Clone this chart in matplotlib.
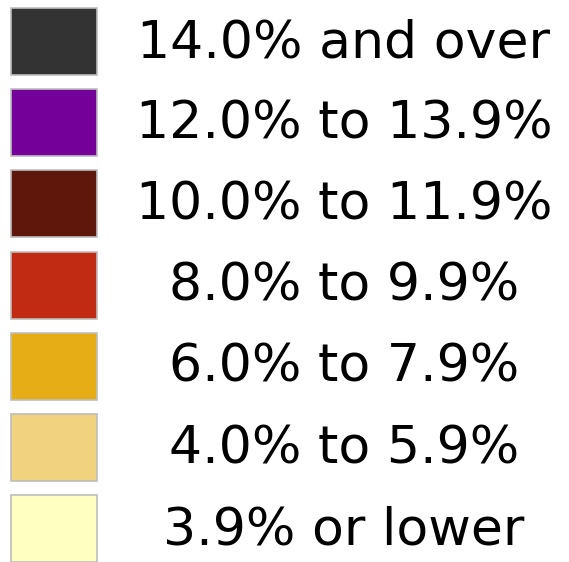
import matplotlib.pyplot as plt
from matplotlib.patches import Rectangle

# legend entries, top to bottom
labels = [
    "14.0% and over",
    "12.0% to 13.9%",
    "10.0% to 11.9%",
    "8.0% to 9.9%",
    "6.0% to 7.9%",
    "4.0% to 5.9%",
    "3.9% or lower",
]
colors = [
    "#333333",
    "#740099",
    "#5f170b",
    "#c22b13",
    "#e6ad17",
    "#f0d27f",
    "#ffffc2",
]

fig = plt.figure(figsize=(5.69, 5.62), dpi=100)
ax = fig.add_axes([0, 0, 1, 1])
ax.set_xlim(0, 569)
ax.set_ylim(562, 0)
ax.axis("off")

pitch = 81.2
for i, (lab, col) in enumerate(zip(labels, colors)):
    top = 8 + i * pitch
    ax.add_patch(Rectangle((11, top), 86, 67, facecolor=col,
                           edgecolor="#bdbdbd", linewidth=1.2))
    ax.text(344, top + 35, lab, ha="center", va="center",
            fontsize=37.5, family="DejaVu Sans", color="black")

fig.savefig("out.png", dpi=100)
